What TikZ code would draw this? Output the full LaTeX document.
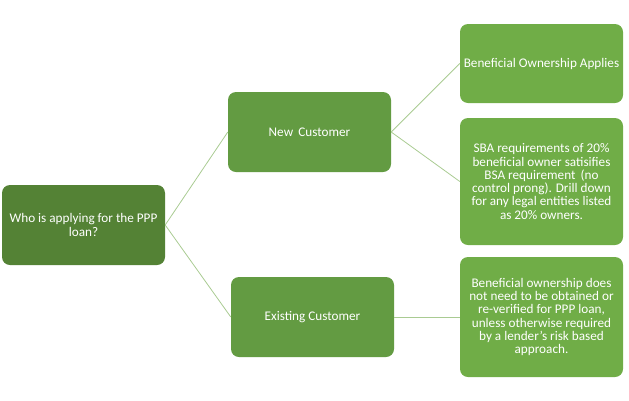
\documentclass[tikz,border=0pt]{standalone}
\usepackage{fontspec}
\setmainfont{Carlito}
\begin{document}
\begin{tikzpicture}[x=1pt,y=-1pt,
  box/.style={rounded corners=8pt, inner sep=2pt, text=white, align=center, font=\fontsize{13.2}{13.3}\selectfont},
  lvl1/.style={box, fill=rootg},
  lvl2/.style={box, fill=midg},
  lvl3/.style={box, fill=leafg},
  conn/.style={draw=lineg, line width=0.8pt}]
\definecolor{rootg}{HTML}{548235}
\definecolor{midg}{HTML}{639B42}
\definecolor{leafg}{HTML}{70AD47}
\definecolor{lineg}{HTML}{A9CB92}
\useasboundingbox (0,0) rectangle (629,400);
\node[lvl1, minimum width=163pt, minimum height=80pt] (root) at (83.5,225) {Who is applying for the PPP\\loan?};
\node[lvl2, minimum width=163pt, minimum height=80pt] (new) at (309.5,132) {New\, Customer};
\node[lvl2, minimum width=163pt, minimum height=80pt] (exist) at (312.5,317) {Existing Customer};
\node[lvl3, minimum width=163pt, minimum height=79pt] (bo) at (541.5,63.5) {Beneficial Ownership Applies};
\node[lvl3, minimum width=163pt, minimum height=127pt] (sba) at (541.5,181.5) {SBA requirements of 20\%\\beneficial owner satisifies\\BSA requirement\, (no\\control prong). Drill down\\for any legal entities listed\\as 20\% owners.};
\node[lvl3, minimum width=163pt, minimum height=120pt] (bod) at (541.5,317) {Beneficial ownership does\\not need to be obtained or\\re-verified for PPP loan,\\unless otherwise required\\by a lender's risk based\\approach.};
\draw[conn] (root.east) -- (new.west);
\draw[conn] (root.east) -- (exist.west);
\draw[conn] (new.east) -- (bo.west);
\draw[conn] (new.east) -- (sba.west);
\draw[conn] (exist.east) -- (bod.west);
\end{tikzpicture}
\end{document}
